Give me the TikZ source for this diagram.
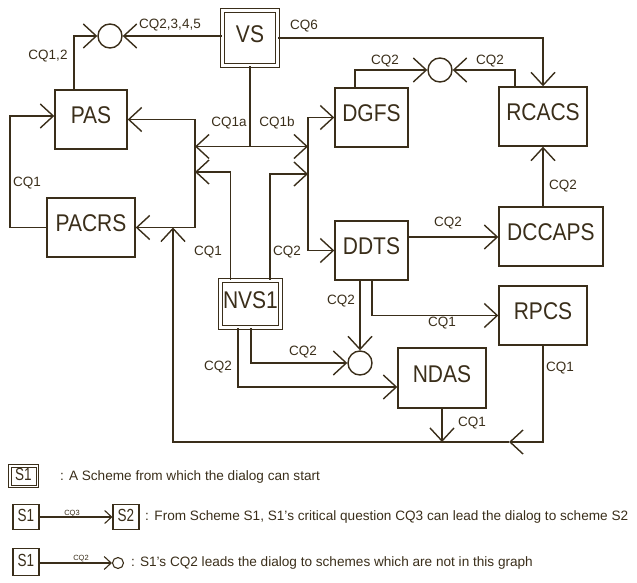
\documentclass[tikz,border=0pt]{standalone}
\usepackage{fontspec}
\setmainfont{Liberation Sans}
\usetikzlibrary{arrows.meta}
\definecolor{ink}{RGB}{58,46,26}
\newcommand{\tallA}[1]{\scalebox{1}[1.15]{#1}}
\newcommand{\tallB}[1]{\scalebox{1}[1.3]{#1}}
\begin{document}
\begin{tikzpicture}[x=1pt,y=-1pt,color=ink,
  box/.style={draw,line width=1.4pt,inner sep=0pt,text height=0.83em,text depth=0pt,font=\fontsize{21}{21}\selectfont},
  dbox/.style={box,line width=1.2pt,double,double distance=2.5pt},
  lbl/.style={inner sep=0pt,text height=0.72em,text depth=0pt,font=\fontsize{13.5}{14}\selectfont},
  tiny/.style={inner sep=0pt,text height=0.72em,text depth=0pt,font=\fontsize{7.5}{8}\selectfont},
  ltxt/.style={inner sep=0pt,text height=0.72em,text depth=0pt,font=\fontsize{13.6}{14}\selectfont,anchor=west},
  lbox/.style={draw,line width=1.1pt,inner sep=0pt,text height=0.94em,text depth=0pt,font=\fontsize{13.5}{14}\selectfont},
  ldbox/.style={lbox,line width=1pt,double,double distance=1.5pt},
  arr/.style={line width=1.4pt,-{Straight Barb[length=13pt,width=24pt]}},
  larr/.style={line width=1.1pt,-{Straight Barb[length=7pt,width=13pt]}},
  ln/.style={line width=1.4pt},
  circ/.style={circle,draw,line width=1.4pt,minimum size=24pt,inner sep=0pt}]
\useasboundingbox (0,0) rectangle (637,583);

% scheme nodes
\node[dbox,minimum width=55pt,minimum height=55pt] (VS) at (250,38) {\tallA{VS}};
\node[box,minimum width=72pt,minimum height=59pt] (PAS) at (91,119.5) {\tallA{PAS}};
\node[box,minimum width=88pt,minimum height=59pt] (PACRS) at (91,227.5) {\tallA{PACRS}};
\node[box,minimum width=73pt,minimum height=59pt] (DGFS) at (371.5,117.5) {\tallA{DGFS}};
\node[box,minimum width=88pt,minimum height=59pt] (RCACS) at (543,116.5) {\tallA{RCACS}};
\node[box,minimum width=73pt,minimum height=59pt] (DDTS) at (371.5,250.5) {\tallA{DDTS}};
\node[box,minimum width=104pt,minimum height=59pt] (DCCAPS) at (551,236.5) {\tallA{DCCAPS}};
\node[dbox,minimum width=60pt,minimum height=47pt] (NVS1) at (250.5,304) {\tallA{NVS1}};
\node[box,minimum width=88pt,minimum height=59pt] (RPCS) at (543,315.5) {\tallA{RPCS}};
\node[box,minimum width=88pt,minimum height=60pt] (NDAS) at (442,378) {\tallA{NDAS}};
\node[circ] (c1) at (110,36) {};
\node[circ] (c2) at (440,70) {};
\node[circ] (c3) at (360,363) {};

% coordinates
\coordinate (bLt) at (195,0 |- PAS.east);
\coordinate (bLb) at (195,0 |- PACRS.east);
\coordinate (bRt) at (308,0 |- DGFS.west);
\coordinate (bRb) at (308,0 |- DDTS.west);
\coordinate (jv) at (VS.south |- 0,146.5);
\coordinate (bj) at (NDAS.south |- 0,442);
\coordinate (br) at (RPCS.south |- 0,442);
\coordinate (bm) at (509,442);
\coordinate (bl) at (173,442);
\coordinate (bt) at (173,0 |- PACRS.east);

% connectors
\draw[arr] (c1.east -| VS.west) -- (c1.east);
\draw[arr] (PAS.north -| 74,0) -- (74,0 |- c1.west) -- (c1.west);
\draw[arr] (PACRS.west) -- (10,0 |- PACRS.west) -- (10,116) -- (PAS.west |- 0,116);
\draw[arr] (bLt) -- (PAS.east);
\draw[arr] (bLt) -- (bLb) -- (PACRS.east);
\draw[ln] (VS.south) -- (jv);
\draw[arr] (jv) -- (bLt |- jv);
\draw[arr] (jv) -- (bRt |- jv);
\draw[arr] (bRt) -- (DGFS.west);
\draw[arr] (bRt) -- (bRb) -- (DDTS.west);
\draw[arr] (NVS1.north -| 230.5,0) -- (230.5,172) -- (bLt |- 0,172);
\draw[arr] (NVS1.north -| 270,0) -- (270,174) -- (bRt |- 0,174);
\draw[arr] (VS.east) -- (VS.east -| RCACS.north) -- (RCACS.north);
\draw[arr] (DGFS.north -| 355,0) -- (355,0 |- c2.west) -- (c2.west);
\draw[arr] (RCACS.north -| 515,0) -- (515,0 |- c2.east) -- (c2.east);
\draw[arr] (DCCAPS.north -| RCACS.south) -- (RCACS.south);
\draw[arr] (DDTS.east |- 0,237) -- (DCCAPS.west |- 0,237);
\draw[arr] (DDTS.south -| c3.north) -- (c3.north);
\draw[arr] (DDTS.south -| 372,0) -- (372,0 |- RPCS.west) -- (RPCS.west);
\draw[arr] (NVS1.south -| 251,0) -- (251,0 |- c3.west) -- (c3.west);
\draw[arr] (NVS1.south -| 238,0) -- (238,387) -- (NDAS.west |- 0,387);
\draw[arr] (NDAS.south) -- (bj);
\draw[arr] (RPCS.south) -- (br) -- (bm);
\draw[arr] (bm) -- (bl) -- (bt);

% connector labels
\node[lbl] (l1) at (170,25) {CQ2,3,4,5};
\node[lbl] (l2) at (48,56) {CQ1,2};
\node[lbl] (l3) at (27,183) {CQ1};
\node[lbl] (l4) at (304,26) {CQ6};
\node[lbl] (l5) at (229,123) {CQ1a};
\node[lbl] (l6) at (277,123) {CQ1b};
\node[lbl] (l7) at (208,252) {CQ1};
\node[lbl] (l8) at (287,252) {CQ2};
\node[lbl] (l9) at (385,61) {CQ2};
\node[lbl] (l10) at (490,61) {CQ2};
\node[lbl] (l11) at (563,186) {CQ2};
\node[lbl] (l12) at (448,223) {CQ2};
\node[lbl] (l13) at (341,301) {CQ2};
\node[lbl] (l14) at (442,323) {CQ1};
\node[lbl] (l15) at (303,352) {CQ2};
\node[lbl] (l16) at (218,367) {CQ2};
\node[lbl] (l17) at (472,423) {CQ1};
\node[lbl] (l18) at (560,368) {CQ1};

% legend
\node[ldbox,minimum width=27.5pt,minimum height=20.5pt] (L1) at (23.5,476) {\tallB{S1}};
\node[ltxt] (T1) at (60,477) {: A Scheme from which the dialog can start};

\node[lbox,minimum width=26pt,minimum height=25pt] (L2a) at (26,517) {\tallB{S1}};
\node[lbox,minimum width=26pt,minimum height=25pt] (L2b) at (126,517) {\tallB{S2}};
\draw[larr] (L2a.east) -- (L2b.west);
\node[tiny] (L2l) at (72,512) {CQ3};
\node[ltxt] (T2) at (145,517) {:\hspace{5.5pt}From Scheme S1, S1's critical question CQ3 can lead the dialog to scheme S2};

\node[lbox,minimum width=26pt,minimum height=27pt] (L3a) at (26,562) {\tallB{S1}};
\node[circle,draw,line width=1.1pt,minimum size=11pt,inner sep=0pt] (L3c) at (118,563) {};
\draw[larr] (L3a.east |- L3c.west) -- (L3c.west);
\node[tiny] (L3l) at (81,557) {CQ2};
\node[ltxt] (T3) at (131,563) {: S1's CQ2 leads the dialog to schemes which are not in this graph};
\end{tikzpicture}
\end{document}
